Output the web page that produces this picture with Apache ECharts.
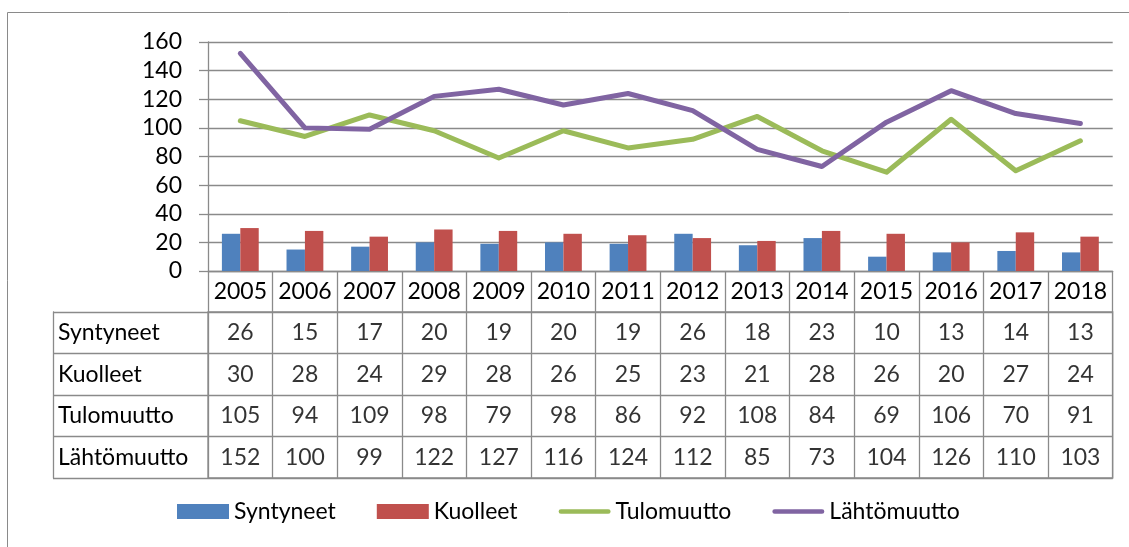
<!DOCTYPE html>
<html><head><meta charset="utf-8">
<script src="https://cdn.jsdelivr.net/npm/echarts@6/dist/echarts.min.js"></script>
<style>html,body{margin:0;padding:0;background:#fff}#c{width:1129px;height:547px}</style>
</head><body><div id="c"></div>
<script>
const years = ['2005','2006','2007','2008','2009','2010','2011','2012','2013','2014','2015','2016','2017','2018'];
const syntyneet = [26,15,17,20,19,20,19,26,18,23,10,13,14,13];
const kuolleet = [30,28,24,29,28,26,25,23,21,28,26,20,27,24];
const tulomuutto = [105,94,109,98,79,98,86,92,108,84,69,106,70,91];
const lahtomuutto = [152,100,99,122,127,116,124,112,85,73,104,126,110,103];
const rowNames = ['Syntyneet','Kuolleet','Tulomuutto','Lähtömuutto'];
const yMin = 0, yMax = 160, yStep = 20;

const FONT = 'Lato';
const FS = 23;
const GRAY = '#8a8a8a';
const LW = 1.3;
const tableRows = [syntyneet, kuolleet, tulomuutto, lahtomuutto];
const tableData = [];
tableRows.forEach((arr, r) => arr.forEach((v, i) => tableData.push([i, r, v])));

const txt = {color:'#000', fontFamily:FONT, fontSize:FS};
const line = {color:GRAY, width:LW};
const lineIcon = 'path://M2.5,0H53.5A2.5,2.5,0,0,1,53.5,5H2.5A2.5,2.5,0,0,1,2.5,0Z';

const chart = echarts.init(document.getElementById('c'), null, {renderer:'canvas'});
chart.setOption({
  animation:false,
  backgroundColor:'#fff',
  textStyle:{fontFamily:FONT},
  graphic:[{type:'rect', silent:true, shape:{x:7.5,y:12.5,width:1200,height:600}, style:{fill:'none', stroke:GRAY, lineWidth:1}}],
  legend:{
    left:177, top:500, padding:0, itemWidth:52, itemHeight:15, itemGap:41, symbolKeepAspect:true,
    textStyle:txt,
    data:[{name:'Syntyneet',icon:'rect'},{name:'Kuolleet',icon:'rect'},{name:'Tulomuutto',icon:lineIcon},{name:'Lähtömuutto',icon:lineIcon}]
  },
  grid:[
    {left:208, right:16.3, top:42, bottom:276, containLabel:false, outerBoundsMode:'none'},
    {left:208, right:16.3, top:312, bottom:69, containLabel:false, outerBoundsMode:'none', show:true, borderColor:GRAY, borderWidth:LW, backgroundColor:'transparent'}
  ],
  xAxis:[
    {gridIndex:0, type:'category', data:years, boundaryGap:true,
     axisLine:{show:true, lineStyle:line},
     axisTick:{show:true, length:41, interval:0, alignWithLabel:false, lineStyle:line},
     axisLabel:Object.assign({show:true, interval:0, margin:20.5, verticalAlign:'middle'}, txt),
     splitLine:{show:false}},
    {gridIndex:1, type:'category', data:years, boundaryGap:true,
     axisLine:{show:false}, axisTick:{show:false}, axisLabel:{show:false},
     splitLine:{show:true, interval:0, lineStyle:line}}
  ],
  yAxis:[
    {gridIndex:0, type:'value', min:yMin, max:yMax, interval:yStep,
     axisLine:{show:true, lineStyle:line},
     axisTick:{show:true, length:9, lineStyle:line},
     axisLabel:Object.assign({margin:26}, txt),
     splitLine:{show:true, lineStyle:line}},
    {gridIndex:1, type:'category', data:rowNames, inverse:true, boundaryGap:true,
     axisLine:{show:false},
     axisTick:{show:true, length:155, interval:0, alignWithLabel:false, lineStyle:line},
     axisLabel:Object.assign({interval:0, align:'left', margin:150}, txt),
     splitLine:{show:true, interval:0, lineStyle:line}},
    {gridIndex:1, type:'category', data:rowNames, inverse:true, position:'left', offset:155,
     axisLine:{show:true, lineStyle:line}, axisTick:{show:false}, axisLabel:{show:false}, splitLine:{show:false}}
  ],
  series:[
    {name:'Syntyneet', type:'bar', xAxisIndex:0, yAxisIndex:0, data:syntyneet, barGap:'0%', barCategoryGap:'43%', itemStyle:{color:'#4F81BD'}},
    {name:'Kuolleet', type:'bar', xAxisIndex:0, yAxisIndex:0, data:kuolleet, barGap:'0%', barCategoryGap:'43%', itemStyle:{color:'#C0504D'}},
    {name:'Tulomuutto', type:'line', xAxisIndex:0, yAxisIndex:0, data:tulomuutto, symbol:'none', showSymbol:false, z:3,
     itemStyle:{color:'#9BBB59'}, lineStyle:{color:'#9BBB59', width:5, cap:'round', join:'round'}},
    {name:'Lähtömuutto', type:'line', xAxisIndex:0, yAxisIndex:0, data:lahtomuutto, symbol:'none', showSymbol:false, z:4,
     itemStyle:{color:'#8064A2'}, lineStyle:{color:'#8064A2', width:5, cap:'round', join:'round'}},
    {name:'table', type:'scatter', xAxisIndex:1, yAxisIndex:1, data:tableData, symbolSize:0, silent:true,
     label:Object.assign({show:true, position:'inside', formatter:p=>String(p.value[2])}, txt)}
  ]
});
</script></body></html>
